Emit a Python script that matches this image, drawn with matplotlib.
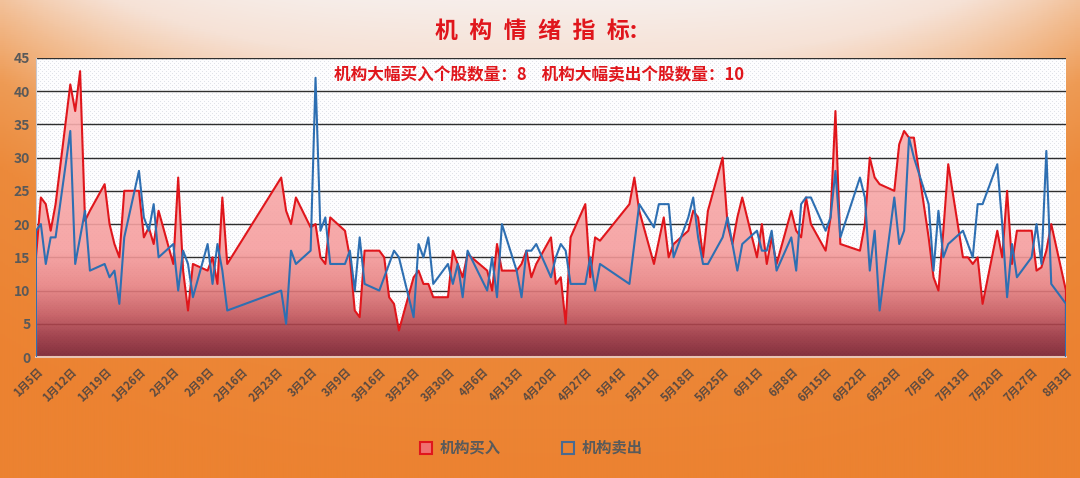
import numpy as np
import pandas as pd
import matplotlib
matplotlib.use('Agg')
import matplotlib.pyplot as plt
import matplotlib.dates as mdates
from matplotlib.colors import LinearSegmentedColormap
from matplotlib.lines import Line2D

plt.rcParams['font.family'] = ['Noto Sans CJK SC', 'DejaVu Sans']

# trading days (weekends and exchange holidays skipped)
holidays = ['2026-02-16', '2026-02-17', '2026-02-18', '2026-02-19', '2026-02-20',
            '2026-02-23', '2026-04-06', '2026-05-01', '2026-05-04', '2026-05-05',
            '2026-06-19']
dates = pd.bdate_range('2026-01-05', '2026-08-03', freq='C', holidays=holidays)

# 机构买入 (red area)
buy_jan = [15, 24, 23, 19, 23, 41, 37, 43, 20.5, 22, 26, 20, 17, 15, 25, 25, 18, 19.5, 17, 22]
buy_feb = [14, 27, 13, 7, 14, 13, 15, 11, 24, 14, 27, 22, 20, 24]
buy_mar = [19.5, 20, 15, 14, 21, 19, 15, 7, 6, 16, 16, 15, 9, 8, 4, 12, 13, 11, 11, 9, 9, 16]
buy_apr = [14, 12, 15.5, 13, 10, 17, 13, 13, 14, 16, 12, 14, 18, 11, 12, 5, 18, 23, 12, 18, 17.5]
buy_may = [23, 27, 22, 14, 17.5, 21, 15, 17, 19, 22, 21, 15, 22, 30, 20, 17, 21, 24]
buy_jun = [15, 20, 14, 18, 14, 22, 19, 18, 24, 20, 16, 21, 37, 17, 16, 20, 30, 27, 26, 25, 32]
buy_jul = [34, 33, 33, 18, 12, 10, 19, 29, 15, 15, 14, 15, 8, 19, 15, 25, 14, 19, 19, 13, 13.5, 16, 20]
buy_aug = [10]

# 机构卖出 (blue line)
sell_jan = [19, 20, 14, 18, 18, 34, 14, 18, 22, 13, 14, 12, 13, 8, 18, 28, 21, 19, 23, 15]
sell_feb = [17, 10, 16, 14, 9, 17, 11, 17, 13, 7, 10, 5, 16, 14]
sell_mar = [16, 42, 19, 21, 14, 14, 16, 10, 18, 11, 10, 12, 14, 16, 15, 6, 17, 15, 18, 11, 14, 11]
sell_apr = [14, 9, 16, 10, 15, 9, 20, 13, 9, 16, 16, 17, 12, 15, 17, 16, 11, 11, 15, 10, 14]
sell_may = [11, 17, 23, 19.5, 23, 23, 23, 15, 21, 24, 18, 14, 14, 18, 21, 17, 13, 17]
sell_jun = [19, 16, 16, 19, 13, 18, 13, 23, 24, 24, 19, 21, 28, 18, 27, 24, 13, 19, 7, 24, 17]
sell_jul = [19, 33, 30, 23, 13, 22, 15, 17, 19, 17, 15, 23, 23, 29, 20, 9, 17, 12, 15, 20, 14, 31, 11]
sell_aug = [8]

buy = np.array(buy_jan + buy_feb + buy_mar + buy_apr + buy_may + buy_jun + buy_jul + buy_aug, float)
sell = np.array(sell_jan + sell_feb + sell_mar + sell_apr + sell_may + sell_jun + sell_jul + sell_aug, float)

title = '机\u2002构\u2002情\u2002绪\u2002指\u2002标:'
subtitle = '机构大幅买入个股数量：8    机构大幅卖出个股数量：10'
legend_labels = ['机构买入', '机构卖出']

RED = '#e0161c'
BLUE = '#2e6fb2'

fig = plt.figure(figsize=(10.8, 4.78), dpi=100)

# background gradient (light peach at top -> orange)
bg = fig.add_axes([0, 0, 1, 1], zorder=-10)
bg_cmap = LinearSegmentedColormap.from_list('bg', [
    (0.0, '#f7eeea'), (0.12, '#f6e2d6'), (0.27, '#f2bd92'),
    (0.42, '#ee9b55'), (0.6, '#ec8a3b'), (1.0, '#ec8231')])
yy = np.linspace(0, 1, 478)[:, None] * np.ones((1, 200))
xx = np.abs(np.linspace(-1, 1, 200))[None, :]
bg.imshow(np.clip(yy + 0.25 * xx ** 3, 0, 1), cmap=bg_cmap, vmin=0, vmax=1,
          aspect='auto', extent=[0, 1, 0, 1], origin='upper')
bg.axis('off')

ax = fig.add_axes([0.0333, 0.253, 0.9537, 0.626])
x0 = mdates.date2num(dates[0])
x1 = mdates.date2num(dates[-1])
ax.set_xlim(x0, x1)
ax.set_ylim(0, 45)

# dotted plot-area background
H, W = 300, 1030
pat = np.full((H, W), 0.0)
pat[::4, ::4] = 1.0
pat[2::4, 2::4] = 1.0
dot_cmap = LinearSegmentedColormap.from_list('dots', ['#fdfdfe', '#e0e2e8'])
ax.imshow(pat, cmap=dot_cmap, extent=[0, 1, 0, 1], transform=ax.transAxes,
          aspect='auto', interpolation='nearest', zorder=0)

for v in range(5, 50, 5):
    ax.axhline(v, color='#2f2f2f', lw=1.0, zorder=1.5)

xd = mdates.date2num(dates)
poly = ax.fill_between(xd, buy, 0, facecolor='none', edgecolor='none', zorder=2)
fill_cmap = LinearSegmentedColormap.from_list('fill', [
    (0.0, '#761a28'), (0.07, '#9a323e'), (0.14, '#c4565b'),
    (0.24, '#e88282'), (0.36, '#f69e9e'), (1.0, '#fbb8b8')])
grad = ax.imshow(np.linspace(0, 45, 256)[:, None], extent=[x0, x1, 0, 45], origin='lower',
                 aspect='auto', cmap=fill_cmap, vmin=0, vmax=45, zorder=2, alpha=0.9)
grad.set_clip_path(poly.get_paths()[0], transform=ax.transData)

# area outlines drop to zero at both ends
xe = np.concatenate([[xd[0]], xd, [xd[-1]]])
ax.plot(xe, np.concatenate([[0], buy, [0]]), color=RED, lw=1.5, zorder=3)
ax.plot(xe, np.concatenate([[0], sell, [0]]), color=BLUE, lw=1.5, zorder=4)

ticks = pd.date_range('2026-01-05', '2026-08-03', freq='7D')
ax.set_xticks(mdates.date2num(ticks))
ax.set_xticklabels([f'{d.month}月{d.day}日' for d in ticks], rotation=45, ha='right',
                   rotation_mode='anchor', fontsize=8, fontweight='bold', color='#5b4a40')
ax.set_yticks(range(0, 50, 5))
ax.set_yticklabels([str(v) for v in range(0, 50, 5)], fontsize=10, fontweight='bold',
                   color='#595959')
ax.tick_params(axis='both', length=0, pad=4)
ax.tick_params(axis='x', pad=6)
for s in ['top', 'right']:
    ax.spines[s].set_visible(False)
ax.spines['left'].set_color('#c8c8d0')
ax.spines['bottom'].set_color('#e8c4b4')
ax.spines['bottom'].set_linewidth(1.5)

fig.text(0.496, 0.935, title, ha='center', va='center', fontsize=16.5, fontweight='bold', color=RED)
ax.text(0.488, 0.943, subtitle, transform=ax.transAxes, ha='center', va='center',
        fontsize=12, fontweight='bold', color=RED, zorder=5)

handles = [Line2D([], [], ls='none', marker='s', markersize=9, markerfacecolor='#f07070',
                  markeredgecolor=RED, markeredgewidth=1.5),
           Line2D([], [], ls='none', marker='s', markersize=9, markerfacecolor='none',
                  markeredgecolor='#4a6a90', markeredgewidth=1.5)]
leg = fig.legend(handles, legend_labels, loc='center', bbox_to_anchor=(0.492, 0.063), ncol=2,
                 frameon=False, handletextpad=0.5, columnspacing=4.0, handlelength=0.8,
                 prop={'size': 11, 'weight': 'bold'})
for t in leg.get_texts():
    t.set_color('#5a5a5a')

fig.savefig('out.png', dpi=100)
